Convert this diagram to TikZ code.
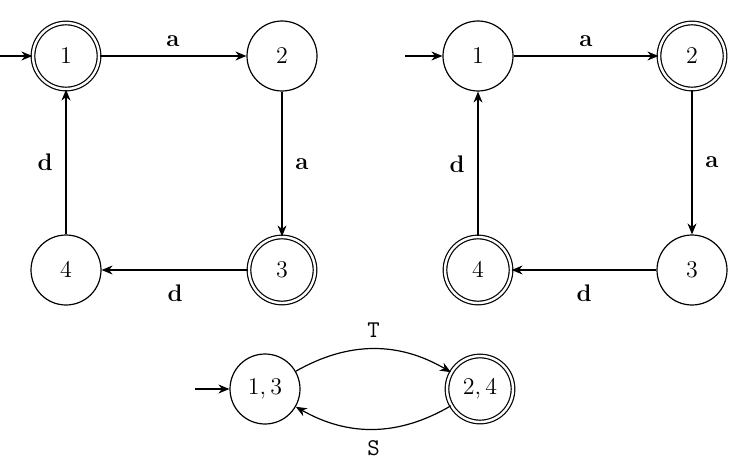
\documentclass[tikz,border=0pt]{standalone}
\usetikzlibrary{arrows.meta}
\begin{document}
\begin{tikzpicture}[x=0.5pt,y=-0.5pt,
  state/.style={circle,draw,line width=0.6pt,minimum size=35pt,inner sep=0pt,font=\large},
  acc/.style={state,double,double distance=1.2pt,minimum size=33pt},
  tr/.style={-{Stealth[length=5.5pt,width=4.5pt]},line width=0.6pt},
  lab/.style={font=\large\bfseries}]
\useasboundingbox (0,0) rectangle (733,465);
% left automaton
\node[acc] (a1) at (66,56) {$1$};
\node[state] (a2) at (282,56) {$2$};
\node[acc] (a3) at (282,270) {$3$};
\node[state] (a4) at (66,270) {$4$};
\coordinate (ai) at (0,56);
\draw[tr] (ai) -- (a1);
\draw[tr] (a1) -- node[lab,above=1pt] {a} (a2);
\draw[tr] (a2) -- node[lab,right=3pt] {a} (a3);
\draw[tr] (a3) -- node[lab,below=4pt] {d} (a4);
\draw[tr] (a4) -- node[lab,left=3pt] {d} (a1);
% right automaton
\node[state] (b1) at (478,56) {$1$};
\node[acc] (b2) at (692,56) {$2$};
\node[state] (b3) at (692,270) {$3$};
\node[acc] (b4) at (478,270) {$4$};
\coordinate (bi) at (405,56);
\draw[tr] (bi) -- (b1);
\draw[tr] (b1) -- node[lab,above=1pt] {a} (b2);
\draw[tr] (b2) -- node[lab,right=3pt] {a} (b3);
\draw[tr] (b3) -- node[lab,below=4pt] {d} (b4);
\draw[tr] (b4) -- node[lab,left=3pt] {d} (b1);
% bottom automaton
\node[state] (c1) at (265,389) {$1,3$};
\node[acc] (c2) at (480,389) {$2,4$};
\coordinate (ci) at (195,389);
\draw[tr] (ci) -- (c1);
\draw[tr] (c1) to[bend left=30] node[above=2pt,font=\large\ttfamily] {T} (c2);
\draw[tr] (c2) to[bend left=30] node[below=2pt,font=\large\ttfamily] {S} (c1);
\end{tikzpicture}
\end{document}
